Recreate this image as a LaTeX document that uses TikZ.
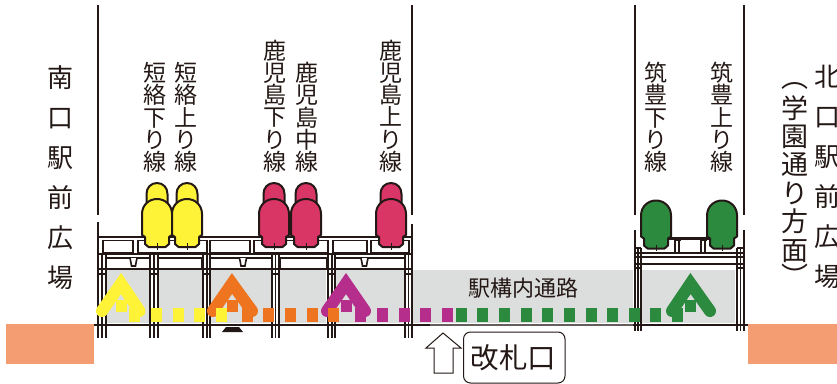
\documentclass[tikz,border=0pt]{standalone}
\usepackage{fontspec}
\setmainfont{Noto Sans CJK JP}
\lineskiplimit=-20pt
\normallineskiplimit=-20pt
\definecolor{ink}{HTML}{231815}
\definecolor{yel}{HTML}{FFF338}
\definecolor{org}{HTML}{EE7420}
\definecolor{pur}{HTML}{B62E8C}
\definecolor{grn}{HTML}{2B8A3E}
\definecolor{crim}{HTML}{D93665}
\definecolor{gry}{HTML}{DCDDDD}
\definecolor{sal}{HTML}{F49C72}
\tikzset{
  thinrule/.style={draw=ink,line width=1.1},
  midrule/.style={draw=ink,line width=1.7},
  heavyrule/.style={draw=ink,line width=2.8},
  deckcell/.style={draw=ink,line width=1.6,fill=white},
  carbody/.style={draw=ink,line width=2,line join=round},
  lbl/.style={inner sep=0pt,align=center,text=ink,anchor=north,font=\fontsize{23}{22.3}\selectfont},
  biglbl/.style={inner sep=0pt,align=center,text=ink,anchor=north,font=\fontsize{26}{40}\selectfont},
  parenlbl/.style={inner sep=0pt,align=center,text=ink,anchor=north,font=\fontsize{27}{28.4}\selectfont},
}
% rear car: centre, colour
\newcommand\rearcar[2]{\path[carbody,fill=#2] (#1-10.5,206) -- (#1-10.5,194) .. controls (#1-10.5,187.5) and (#1-6,183) .. (#1,183) .. controls (#1+6,183) and (#1+10.5,187.5) .. (#1+10.5,194) -- (#1+10.5,206) -- cycle;}
% front car: centre, colour, y shift
\newcommand\frontcar[3]{%
  \path[carbody,fill=#2,yshift=-#3pt] (#1-15,235) -- (#1-15,214) .. controls (#1-15,205) and (#1-8,199) .. (#1,199) .. controls (#1+8,199) and (#1+15,205) .. (#1+15,214) -- (#1+15,235) -- (#1+12,237) -- (#1+12,244) -- (#1+8.5,247) -- (#1-8.5,247) -- (#1-12,244) -- (#1-12,237) -- cycle;
  \draw[ink,line width=1,yshift=-#3pt] (#1,243) -- (#1,249.5);}
% chevron with its square: apex x, colour, left foot x, right foot x
\newcommand\chevron[4]{%
  \draw[#2,line width=12,line cap=round,line join=miter,miter limit=10] (#3,311) -- (#1,283.5) -- (#4,311);
  \fill[#2] (#1-5.5,300) rectangle (#1+5.5,312);}
\begin{document}
\begin{tikzpicture}[x=1pt,y=-1pt]
\useasboundingbox (0,0) rectangle (837,383);
\clip (0,0) rectangle (837,383);
% ground blocks
\fill[sal] (6,323.5) rectangle (94,363.5);
\fill[sal] (748,323.5) rectangle (837,363.5);
% concourse
\fill[gry] (105,270) rectangle (735,323);
\foreach \a/\b in {149/158,202/210,272/280,326/335,404/413,633/642}
  \fill[white] (\a,270) rectangle (\b,323);
% long rules
\draw[thinrule] (98,5) -- (98,215);
\draw[thinrule] (412,5) -- (412,215);
\draw[thinrule] (635,5) -- (635,215);
\draw[thinrule] (744,5) -- (744,215);
\draw[midrule] (94,325) -- (430,325);
\draw[draw=ink!70,line width=1.1] (430,325) -- (633,325);
\draw[midrule] (633,325) -- (748,325);
% south deck
\foreach \a/\b in {103/133,138/207,210/250,254/328,333/367,371/409}
  \path[deckcell] (\a,240.5) rectangle (\b,252.5);
\foreach \a/\b in {106/150,158/202,210/272,280/327,335/405}
  \path[deckcell] (\a,258) rectangle (\b,269);
\foreach \x in {133.5,243,364.5}
  \path[deckcell] (\x-3.5,258) -- (\x-2.5,263) -- (\x-2,266) -- (\x+2,266) -- (\x+2.5,263) -- (\x+3.5,258);
\draw[heavyrule] (98,237) -- (412,237);
\draw[heavyrule] (98,254) -- (412,254);
\draw[heavyrule] (98,269) -- (412,269);
% south pillars
\foreach \x in {98,102,106,150,154,158,203,207,210,272,275.5,279,328,332,335,405,408.5}
  \draw[midrule] (\x,254) -- (\x,338);
\draw[heavyrule] (98,222) -- (98,338);
\draw[heavyrule] (412,224) -- (412,338);
\foreach \a/\b in {98/106,150/158,203/210,272/279,328/335,405/412}
  \draw[thinrule] (\a,274) -- (\b,274);
% footing
\fill[ink] (226,327) -- (239,327) -- (243,332) -- (222,332) -- cycle;
% north deck
\draw[draw=ink,line width=3] (669,238.5) -- (710,238.5);
\foreach \x in {677,703}{
  \draw[thinrule] (\x-2,241) -- (\x-2,253);
  \draw[thinrule] (\x+2,241) -- (\x+2,253);
  \fill[ink] (\x-3.5,238) rectangle (\x+3.5,241);}
\draw[thinrule] (635,253) -- (744,253);
\draw[heavyrule] (635,257) -- (744,257);
\draw[thinrule] (635,264) -- (744,264);
\draw[heavyrule] (635,230) -- (635,331);
\draw[heavyrule] (744,230) -- (744,331);
\foreach \x in {638,641,737,740.5}
  \draw[midrule] (\x,248) -- (\x,331);
\draw[thinrule] (635,248) -- (641,248);
\draw[thinrule] (737,248) -- (744,248);
\draw[thinrule] (635,268) -- (641,268);
\draw[thinrule] (737,268) -- (744,268);
% cars
\rearcar{157}{yel}\rearcar{187}{yel}
\rearcar{274}{crim}\rearcar{306}{crim}\rearcar{391}{crim}
\frontcar{157}{yel}{0}\frontcar{187}{yel}{0}
\frontcar{274}{crim}{0}\frontcar{306}{crim}{0}\frontcar{391}{crim}{0}
\frontcar{656}{grn}{1.5}\frontcar{722}{grn}{1.5}
% walking arrows
\chevron{121}{yel}{102}{139.5}
\chevron{232}{org}{213}{252}
\chevron{346}{pur}{327}{365}
\chevron{690.5}{grn}{672}{710}
\foreach \x in {129,151,172.7,194.3,216}
  \fill[yel] (\x,307.7) rectangle (\x+11,321.7);
\foreach \x in {241.7,263.3,285,306.7,328.3}
  \fill[org] (\x,307.7) rectangle (\x+11,321.7);
\foreach \x in {355.3,377,398.7,420.3,442}
  \fill[pur] (\x,307.7) rectangle (\x+11,321.7);
\foreach \x in {455.7,477.3,499,520.6,542.2,563.9,585.5,607.2,628.8,650.4,672}
  \fill[grn] (\x,307.7) rectangle (\x+11,321.7);
% labels
\node[biglbl] (south) at (60,65) {南\\口\\駅\\前\\広\\場};
\node[biglbl] (north) at (827,65) {北\\口\\駅\\前\\広\\場};
\node[parenlbl] (avenue) at (795,82) {︵\\[2.5pt]学\\園\\通\\り\\方\\面\\[-2pt]︶};
\node[lbl] (l1) at (155,62) {短\\絡\\下\\り\\線};
\node[lbl] (l2) at (186,62) {短\\絡\\上\\り\\線};
\node[lbl] (l3) at (275,39.5) {鹿\\児\\島\\下\\り\\線};
\node[lbl] (l4) at (307,62) {鹿\\児\\島\\中\\線};
\node[lbl] (l5) at (391,39.5) {鹿\\児\\島\\上\\り\\線};
\node[lbl] (l6) at (656,62) {筑\\豊\\下\\り\\線};
\node[lbl] (l7) at (722,62) {筑\\豊\\上\\り\\線};
\node[inner sep=0pt,text=ink,font=\fontsize{22}{24}\selectfont] (passage) at (523,288) {駅構内通路};
% gate
\path[draw=ink,line width=1,rounded corners=7pt] (463.5,332) rectangle (565,383);
\node[inner sep=0pt,text=ink,font=\fontsize{28.5}{30}\selectfont] (gate) at (513.5,358) {改札口};
\path[draw=ink,line width=1,fill=white] (443,333) -- (461,348) -- (453,348) -- (453,373) -- (434,373) -- (434,348) -- (426,348) -- cycle;
\end{tikzpicture}
\end{document}
